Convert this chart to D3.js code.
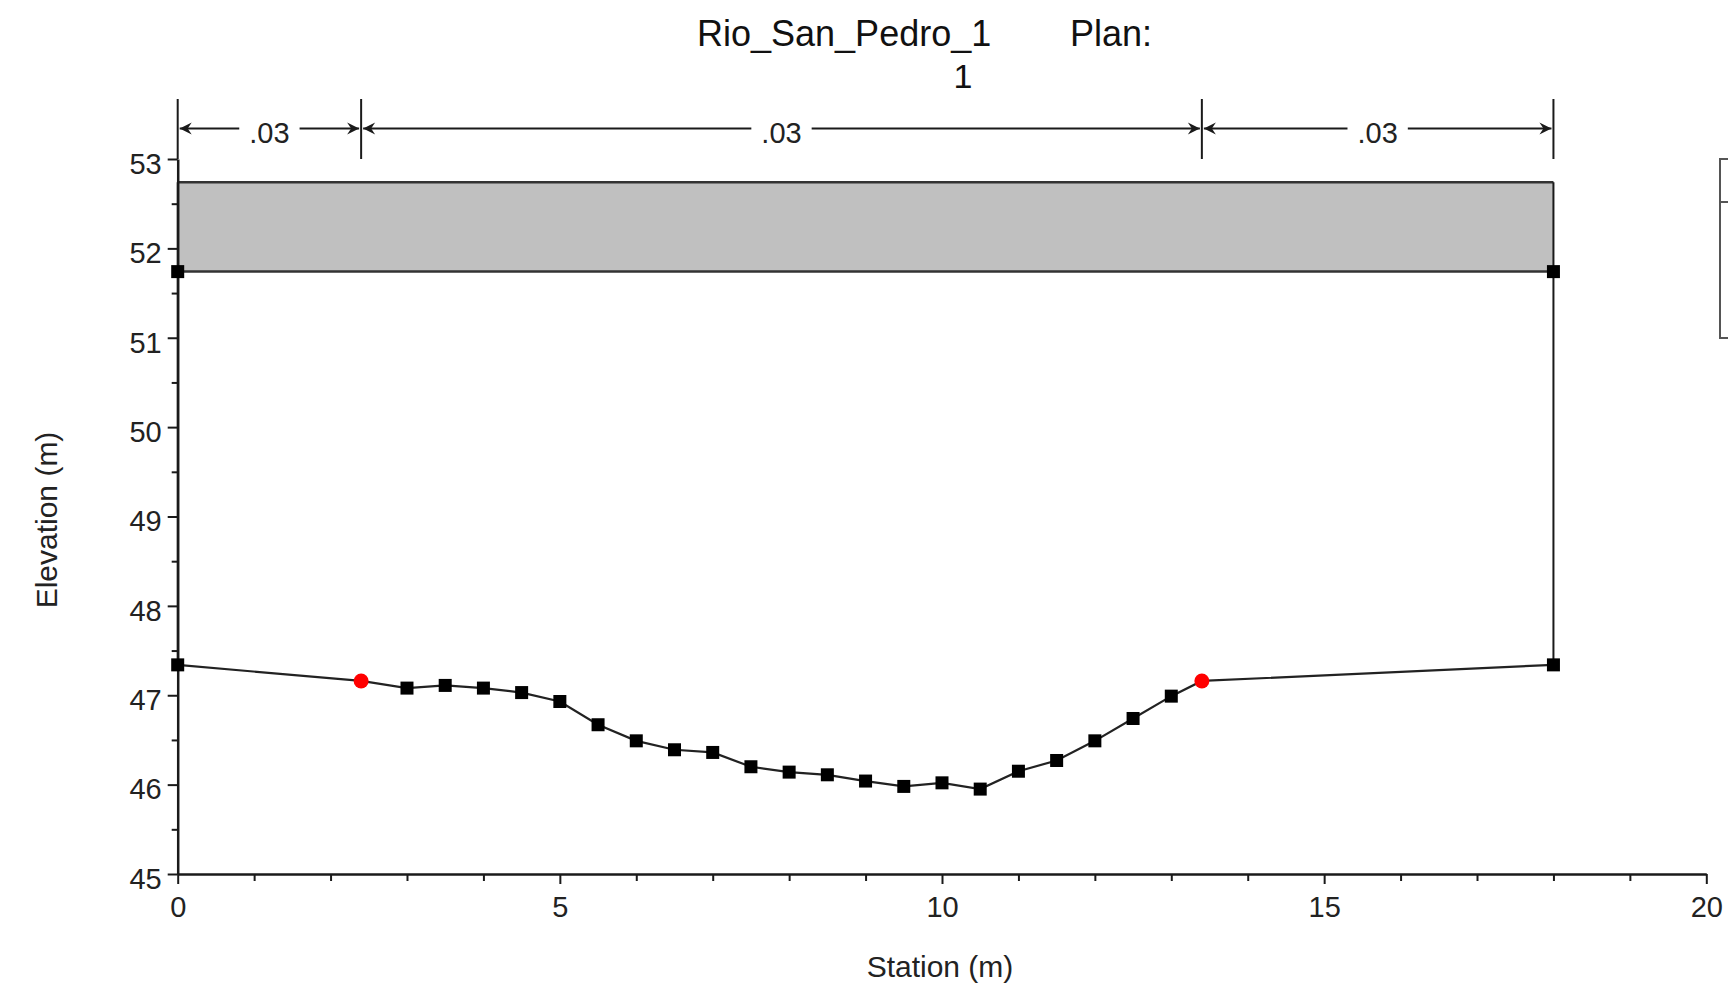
<!DOCTYPE html>
<html>
<head>
<meta charset="utf-8">
<script src="https://cdn.jsdelivr.net/npm/d3@7"></script>
<style>
  html, body { margin: 0; padding: 0; background: #fff; overflow: hidden; }
  svg { display: block; font-family: "Liberation Sans", Arial, sans-serif; }
</style>
</head>
<body>
<svg id="chart" width="1728" height="988"></svg>
<script>
// ---- data ----
const stations   = [0, 2.4, 3, 3.5, 4, 4.5, 5, 5.5, 6, 6.5, 7, 7.5, 8, 8.5, 9, 9.5, 10, 10.5, 11, 11.5, 12, 12.5, 13, 13.4, 18];
const elevations = [47.34, 47.16, 47.08, 47.11, 47.08, 47.03, 46.93, 46.67, 46.49, 46.39, 46.36, 46.20, 46.14, 46.11, 46.04, 45.98, 46.02, 45.95, 46.15, 46.27, 46.49, 46.74, 46.99, 47.16, 47.34];
const bankStations = [2.4, 13.4];
const nBreaks = [0, 2.4, 13.4, 18];
const nValues = [".03", ".03", ".03"];
const deckStations = [0, 18];
const highChord = [52.74, 52.74];
const lowChord  = [51.74, 51.74];
const xTicks = [0, 5, 10, 15, 20];
const xMinorTicks = [1, 2, 3, 4, 6, 7, 8, 9, 11, 12, 13, 14, 16, 17, 18, 19];
const yTicks = [45, 46, 47, 48, 49, 50, 51, 52, 53];
const yMinorTicks = [45.5, 46.5, 47.5, 48.5, 49.5, 50.5, 51.5, 52.5];
const titleLine1a = "Rio_San_Pedro_1";
const titleLine1b = "Plan:";
const titleLine2 = "1";
const xLabel = "Station (m)";
const yLabel = "Elevation (m)";

// ---- layout ----
const svg = d3.select("#chart");
const x = d3.scaleLinear().domain([0, 20]).range([177.7, 1706.3]);
const y = d3.scaleLinear().domain([45, 53]).range([874, 159]);
const ink = "#1a1a1a";

// bridge deck
const deck = deckStations.map((s, i) => ({s, lo: lowChord[i], hi: highChord[i]}));
svg.append("path").datum(deck)
  .attr("d", d3.area().x(d => x(d.s)).y0(d => y(d.lo)).y1(d => y(d.hi)))
  .attr("fill", "#c0c0c0");
svg.append("path").datum(deck)
  .attr("d", d3.line().x(d => x(d.s)).y(d => y(d.hi)))
  .attr("fill", "none").attr("stroke", "#333").attr("stroke-width", 2.5);
svg.append("path").datum(deck)
  .attr("d", d3.line().x(d => x(d.s)).y(d => y(d.lo)))
  .attr("fill", "none").attr("stroke", "#333").attr("stroke-width", 2.5);

// abutment verticals from deck top to ground
const firstG = elevations[0], lastG = elevations[elevations.length - 1];
[[deckStations[0], firstG], [deckStations[1], lastG]].forEach(([s, g]) => {
  svg.append("line")
    .attr("x1", x(s)).attr("x2", x(s))
    .attr("y1", y(highChord[0])).attr("y2", y(g))
    .attr("stroke", ink).attr("stroke-width", 2);
});

// ground line
const ground = stations.map((s, i) => ({s, e: elevations[i]}));
svg.append("path").datum(ground)
  .attr("d", d3.line().x(d => x(d.s)).y(d => y(d.e)))
  .attr("fill", "none").attr("stroke", "#222").attr("stroke-width", 2.2);

// axes
const yAxis = svg.append("g").attr("transform", `translate(${x(0)},0)`)
  .call(d3.axisLeft(y).tickValues(yTicks).tickSize(10).tickPadding(6).tickSizeOuter(0).tickFormat(d3.format("d")));
svg.append("g").attr("transform", `translate(${x(0)},0)`)
  .call(d3.axisLeft(y).tickValues(yMinorTicks).tickSize(6).tickSizeOuter(0).tickFormat(""))
  .select(".domain").remove();
const xAxis = svg.append("g").attr("transform", `translate(0,${y(45)})`)
  .call(d3.axisBottom(x).tickValues(xTicks).tickSize(10).tickSizeOuter(0).tickFormat(d3.format("d")));
svg.append("g").attr("transform", `translate(0,${y(45)})`)
  .call(d3.axisBottom(x).tickValues(xMinorTicks).tickSize(7).tickSizeOuter(0).tickFormat(""))
  .select(".domain").remove();
svg.selectAll(".domain").attr("stroke", ink).attr("stroke-width", 2.5);
svg.selectAll(".tick line").attr("stroke", ink).attr("stroke-width", 2);
yAxis.selectAll("text").attr("font-size", 29).attr("fill", "#222").attr("y", 5)
  .attr("font-family", "Liberation Sans, Arial, sans-serif");
xAxis.selectAll("text").attr("font-size", 29).attr("fill", "#222").attr("y", 43).attr("dy", 0)
  .attr("font-family", "Liberation Sans, Arial, sans-serif");

// markers
svg.append("g").selectAll("rect")
  .data(ground.filter(d => !bankStations.includes(d.s)))
  .join("rect")
  .attr("x", d => x(d.s) - 6.5).attr("y", d => y(d.e) - 6.5)
  .attr("width", 13).attr("height", 13).attr("fill", "#000");
svg.append("g").selectAll("rect")
  .data(deck)
  .join("rect")
  .attr("x", d => x(d.s) - 6.5).attr("y", d => y(d.lo) - 6.5)
  .attr("width", 13).attr("height", 13).attr("fill", "#000");
svg.append("g").selectAll("circle")
  .data(ground.filter(d => bankStations.includes(d.s)))
  .join("circle")
  .attr("cx", d => x(d.s)).attr("cy", d => y(d.e)).attr("r", 7.5).attr("fill", "#ff0000");

// Manning's n markers
const nTop = 99, nBot = 159, nY = 128.5;
const ng = svg.append("g");
nBreaks.forEach(s => {
  ng.append("line").attr("x1", x(s)).attr("x2", x(s)).attr("y1", nTop).attr("y2", nBot)
    .attr("stroke", ink).attr("stroke-width", 2);
});
function arrowHead(px, dir) {
  const L = 12, W = 6;
  return `M${px},${nY} L${px - dir * L},${nY - W} L${px - dir * (L - 4)},${nY} L${px - dir * L},${nY + W} Z`;
}
nValues.forEach((v, i) => {
  const x0 = x(nBreaks[i]) + 2, x1 = x(nBreaks[i + 1]) - 2;
  const cx = (x0 + x1) / 2;
  const t = ng.append("text").attr("x", cx).attr("y", nY + 14)
    .attr("text-anchor", "middle").attr("font-size", 29).attr("fill", "#222").text(v);
  const w = t.node().getComputedTextLength();
  const gap = 10;
  ng.append("line").attr("x1", x0).attr("x2", cx - w / 2 - gap).attr("y1", nY).attr("y2", nY)
    .attr("stroke", ink).attr("stroke-width", 2.2);
  ng.append("line").attr("x1", cx + w / 2 + gap).attr("x2", x1).attr("y1", nY).attr("y2", nY)
    .attr("stroke", ink).attr("stroke-width", 2.2);
  ng.append("path").attr("d", arrowHead(x0, -1)).attr("fill", ink);
  ng.append("path").attr("d", arrowHead(x1, 1)).attr("fill", ink);
});

// titles
svg.append("text").attr("x", 697).attr("y", 46).attr("font-size", 36).attr("fill", "#111").text(titleLine1a);
svg.append("text").attr("x", 1070).attr("y", 46).attr("font-size", 36).attr("fill", "#111").text(titleLine1b);
svg.append("text").attr("x", 963).attr("y", 88).attr("text-anchor", "middle").attr("font-size", 34).attr("fill", "#111").text(titleLine2);

svg.append("text").attr("x", 940).attr("y", 977).attr("text-anchor", "middle")
  .attr("font-size", 30).attr("fill", "#222").text(xLabel);
svg.append("text").attr("transform", "translate(57,520) rotate(-90)").attr("text-anchor", "middle")
  .attr("font-size", 30).attr("fill", "#222").text(yLabel);

// legend box (cut off at right edge)
svg.append("rect").attr("x", 1720).attr("y", 159).attr("width", 40).attr("height", 179)
  .attr("fill", "none").attr("stroke", "#555").attr("stroke-width", 2);
svg.append("line").attr("x1", 1720).attr("x2", 1760).attr("y1", 202).attr("y2", 202)
  .attr("stroke", "#555").attr("stroke-width", 2);
</script>
</body>
</html>
